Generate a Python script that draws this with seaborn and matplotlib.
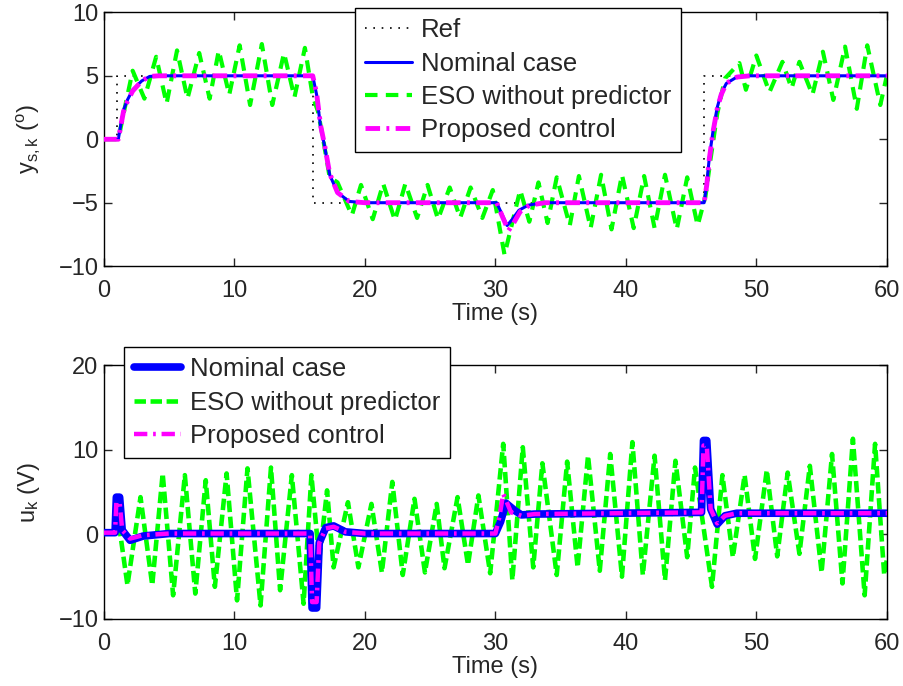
import numpy as np
import pandas as pd
import matplotlib
matplotlib.use("Agg")
import matplotlib.pyplot as plt
import seaborn as sns

# ======================================
# DADOS
# ======================================
# --- saída y_s,k (graus) ---
t_ref = [0, 1.0, 1.0, 16.0, 16.0, 46.0, 46.0, 60]
y_ref = [0, 0, 5, 5, -5, -5, 5, 5]

t_nom = [0, 1.1, 1.3, 1.5, 1.8, 2.2, 2.9, 3.5, 4.2, 16.0, 16.3, 16.6, 16.9, 17.3,
         17.9, 18.8, 20.0, 30.1, 30.5, 30.9, 31.3, 31.8, 32.5, 33.6, 46.0, 46.2,
         46.4, 46.7, 47.0, 47.3, 47.7, 48.5, 49.5, 60]
y_nom = [0, 0, 1.2, 2.3, 3.1, 3.9, 4.6, 4.95, 5.0, 5.0, 3.5, 1.0, -0.5, -2.8,
         -4.2, -4.9, -5.0, -5.0, -5.9, -6.8, -6.3, -5.6, -5.2, -5.0, -5.0, -3.5,
         -1.4, 0.8, 2.5, 3.6, 4.4, 4.9, 5.0, 5.0]

t_prop = [0, 1.1, 1.3, 1.5, 1.8, 2.2, 2.9, 3.5, 4.2, 16.0, 16.3, 16.6, 16.9, 17.3,
          17.9, 18.8, 20.0, 30.1, 30.5, 31.0, 31.4, 31.9, 32.6, 33.8, 46.0, 46.2,
          46.4, 46.7, 47.0, 47.3, 47.7, 48.5, 49.5, 60]
y_prop = [0, 0, 1.1, 2.2, 3.0, 3.8, 4.6, 4.95, 5.0, 5.0, 3.6, 1.1, -0.4, -2.7,
          -4.2, -4.9, -5.0, -5.0, -6.0, -7.2, -6.6, -5.7, -5.2, -5.0, -5.0, -3.6,
          -1.5, 0.7, 2.4, 3.5, 4.4, 4.9, 5.0, 5.0]

t_eso = [0, 1.1, 1.5, 2.2, 3.1, 4.0, 4.8, 5.6, 6.4, 7.3, 8.1, 8.8, 9.6, 10.4, 11.2,
         12.1, 12.9, 13.8, 14.6, 15.4, 16.0, 16.4, 16.8, 17.3, 17.9, 19.0, 19.7,
         20.6, 21.4, 22.3, 23.1, 24.0, 24.8, 25.6, 26.5, 27.3, 28.1, 29.0, 29.8,
         30.7, 31.9, 32.6, 33.3, 34.0, 34.7, 35.7, 36.4, 37.3, 38.1, 38.9, 39.7,
         40.6, 41.4, 42.2, 43.0, 43.9, 44.7, 45.5, 46.1, 46.5, 47.0, 47.6, 48.7,
         49.2, 50.0, 51.0, 52.0, 52.7, 53.3, 54.3, 55.1, 55.9, 56.8, 57.7, 58.5,
         59.5, 60]
y_eso = [0, 0, 2.0, 5.4, 3.2, 6.5, 2.8, 7.0, 3.2, 6.8, 3.2, 7.0, 3.5, 7.4, 2.7,
         7.5, 2.7, 6.8, 3.3, 7.2, 3.4, 2.2, 0.0, -3.0, -3.4, -6.0, -3.6, -6.3,
         -3.5, -6.4, -3.5, -6.2, -3.6, -6.3, -3.8, -6.2, -3.8, -6.2, -4.0, -9.1,
         -4.0, -6.5, -3.4, -6.6, -3.0, -6.8, -2.9, -7.0, -2.8, -7.1, -2.8, -7.0,
         -2.9, -7.0, -2.8, -7.1, -3.0, -6.8, -4.5, -1.5, 2.0, 4.8, 6.0, 3.9, 6.6,
         3.7, 6.1, 4.0, 6.1, 3.5, 6.9, 3.1, 7.3, 2.4, 7.4, 2.7, 5.0]

# --- sinal de controle u_k (V) ---
t_unom = [0, 0.85, 0.95, 1.2, 1.4, 2.0, 3.0, 5.0, 15.8, 15.95, 16.3, 16.5, 17.0,
          17.6, 18.5, 20.0, 30.0, 30.4, 30.8, 31.5, 32.0, 33.0, 45.8, 45.95, 46.2,
          46.5, 47.0, 47.6, 48.5, 60]
u_nom = [0.2, 0.2, 4.4, 4.4, 0.5, -0.7, -0.2, 0.1, 0.1, -8.7, -8.7, -1.0, 0.8,
         1.0, 0.3, 0.1, 0.1, 1.5, 3.7, 2.8, 2.3, 2.4, 2.6, 11.1, 11.1, 3.0, 1.2,
         2.2, 2.5, 2.5]

t_uprop = [0, 0.85, 0.95, 1.2, 1.4, 2.0, 3.0, 5.0, 15.8, 15.95, 16.3, 16.5, 17.0,
           17.6, 18.5, 20.0, 30.0, 30.3, 30.6, 31.2, 32.0, 33.0, 45.8, 45.95, 46.2,
           46.5, 47.0, 47.6, 48.5, 60]
u_prop = [0.2, 0.2, 3.8, 3.8, 0.5, -0.5, -0.1, 0.1, 0.1, -8.0, -8.0, -1.0, 0.7,
          0.9, 0.3, 0.1, 0.1, 2.0, 4.8, 2.6, 2.2, 2.4, 2.6, 10.5, 10.5, 3.0, 1.3,
          2.2, 2.5, 2.5]

t_ueso = [0, 0.9, 1.0, 1.8, 2.8, 3.7, 4.5, 5.3, 6.2, 7.0, 7.8, 8.5, 9.4, 10.2,
          11.0, 12.0, 12.8, 13.5, 14.4, 15.3, 15.9, 16.5, 17.1, 17.6, 18.7, 19.5,
          20.5, 21.3, 22.1, 22.9, 23.8, 24.6, 25.5, 26.1, 27.1, 27.9, 28.7, 29.6,
          30.6, 31.3, 32.1, 32.9, 33.6, 34.7, 35.5, 36.3, 37.1, 38.0, 38.8, 39.7,
          40.5, 41.3, 42.2, 43.0, 43.8, 44.7, 45.3, 46.6, 47.4, 48.2, 49.1, 49.9,
          50.8, 51.6, 52.4, 53.3, 54.1, 55.0, 55.8, 56.6, 57.4, 58.3, 59.1, 59.8, 60]
u_eso = [0.2, 0.2, 2.8, -6.0, 4.4, -6.0, 7.2, -7.2, 7.0, -7.0, 6.4, -6.2, 7.2,
         -7.8, 7.8, -8.4, 7.9, -6.6, 7.0, -8.2, 7.0, -3.0, 5.2, -3.9, 3.8, -3.9,
         3.6, -4.5, 6.2, -4.8, 4.2, -4.5, 3.6, -4.0, 4.4, -3.6, 4.6, -4.6, 10.7,
         -5.4, 10.3, -3.9, 8.4, -4.8, 8.6, -3.9, 9.3, -4.3, 9.5, -5.0, 10.9, -4.8,
         9.3, -5.4, 8.7, -2.7, 7.9, -6.2, 7.0, -2.7, 7.0, -2.9, 7.6, -2.6, 7.3,
         -2.3, 8.1, -4.5, 9.5, -5.8, 11.3, -7.2, 10.7, -4.8, -3.0]

X_TICKS = [0, 10, 20, 30, 40, 50, 60]
Y_TICKS_TOP = [-10, -5, 0, 5, 10]
Y_TICKS_BOT = [-10, 0, 10, 20]

# ======================================
# ESTILO
# ======================================
sns.set_style("ticks")
plt.rcParams["font.family"] = ["Liberation Sans", "DejaVu Sans"]
plt.rcParams["mathtext.fontset"] = "custom"
plt.rcParams["mathtext.rm"] = "Liberation Sans"
plt.rcParams["mathtext.it"] = "Liberation Sans"
plt.rcParams["mathtext.default"] = "regular"
plt.rcParams["axes.linewidth"] = 1.0
plt.rcParams["axes.edgecolor"] = "black"

FS = 17
FS_LEG = 18.5
BLUE, GREEN, MAGENTA = "#0000ff", "#00ff00", "#ff00ff"

fig = plt.figure(figsize=(9.04, 6.86), dpi=100)
ax1 = fig.add_axes([0.115, 0.612, 0.866, 0.370])
ax2 = fig.add_axes([0.115, 0.0977, 0.866, 0.370])


def linha(ax, t, v, **kw):
    sns.lineplot(x=np.array(t, float), y=np.array(v, float), ax=ax,
                 estimator=None, sort=False, **kw)


# ---------- gráfico de cima ----------
linha(ax1, t_ref, y_ref, color="black", lw=1.2, linestyle=(0, (1, 4)), label="Ref")
linha(ax1, t_eso, y_eso, color=GREEN, lw=3, linestyle=(0, (3, 2)),
      label="ESO without predictor", zorder=2)
linha(ax1, t_nom, y_nom, color=BLUE, lw=2.2, label="Nominal case", zorder=3)
linha(ax1, t_prop, y_prop, color=MAGENTA, lw=3.5, linestyle=(0, (3, 1.3, 0.6, 1.3)),
      label="Proposed control", zorder=4)

# ---------- gráfico de baixo ----------
linha(ax2, t_ueso, u_eso, color=GREEN, lw=3.3, linestyle=(0, (2.5, 1.0)),
      label="ESO without predictor", zorder=2)
linha(ax2, t_unom, u_nom, color=BLUE, lw=5.5, solid_capstyle="round",
      solid_joinstyle="round", label="Nominal case", zorder=3)
linha(ax2, t_uprop, u_prop, color=MAGENTA, lw=3.2, linestyle=(0, (3, 1.3, 0.6, 1.3)),
      label="Proposed control", zorder=4)

for ax, yl, yt, lab in [(ax1, (-10, 10), Y_TICKS_TOP, r"y$_{s,k}$ ($^{o}$)"),
                        (ax2, (-10, 20), Y_TICKS_BOT, r"u$_{k}$ (V)")]:
    ax.set_xlim(0, 60)
    ax.set_ylim(*yl)
    ax.set_xticks(X_TICKS)
    ax.set_yticks(yt)
    ax.set_xticklabels([str(v) for v in X_TICKS])
    ax.set_yticklabels(["\u2212%d" % -v if v < 0 else str(v) for v in yt])
    ax.tick_params(direction="in", length=6, width=1, labelsize=FS,
                   top=True, right=True)
    ax.tick_params(axis="x", pad=10)
    ax.tick_params(axis="y", pad=4)
    for s in ax.spines.values():
        s.set_visible(True)
    ax.set_xlabel("Time (s)", fontsize=FS, labelpad=1)
    ax.set_ylabel(lab, fontsize=FS, labelpad=12)

# legendas
leg_kw = dict(loc="upper left", bbox_transform=fig.transFigure, fontsize=FS_LEG,
              frameon=True, fancybox=False, framealpha=1, edgecolor="black",
              handlelength=1.8, handletextpad=0.35, labelspacing=0.36,
              borderpad=0.4, borderaxespad=0)

h1, l1 = ax1.get_legend_handles_labels()
ordem1 = ["Ref", "Nominal case", "ESO without predictor", "Proposed control"]
hd1 = dict(zip(l1, h1))
leg1 = ax1.legend([hd1[k] for k in ordem1], ordem1,
                  bbox_to_anchor=(355 / 904, 1 - 8 / 686), **leg_kw)
leg1.get_frame().set_linewidth(1.0)

h2, l2 = ax2.get_legend_handles_labels()
ordem2 = ["Nominal case", "ESO without predictor", "Proposed control"]
hd2 = dict(zip(l2, h2))
leg2 = ax2.legend([hd2[k] for k in ordem2], ordem2,
                  bbox_to_anchor=(124 / 904, 1 - 347 / 686), **leg_kw)
leg2.get_frame().set_linewidth(1.0)
leg2.set_zorder(10)

fig.savefig("out.png", dpi=100)
